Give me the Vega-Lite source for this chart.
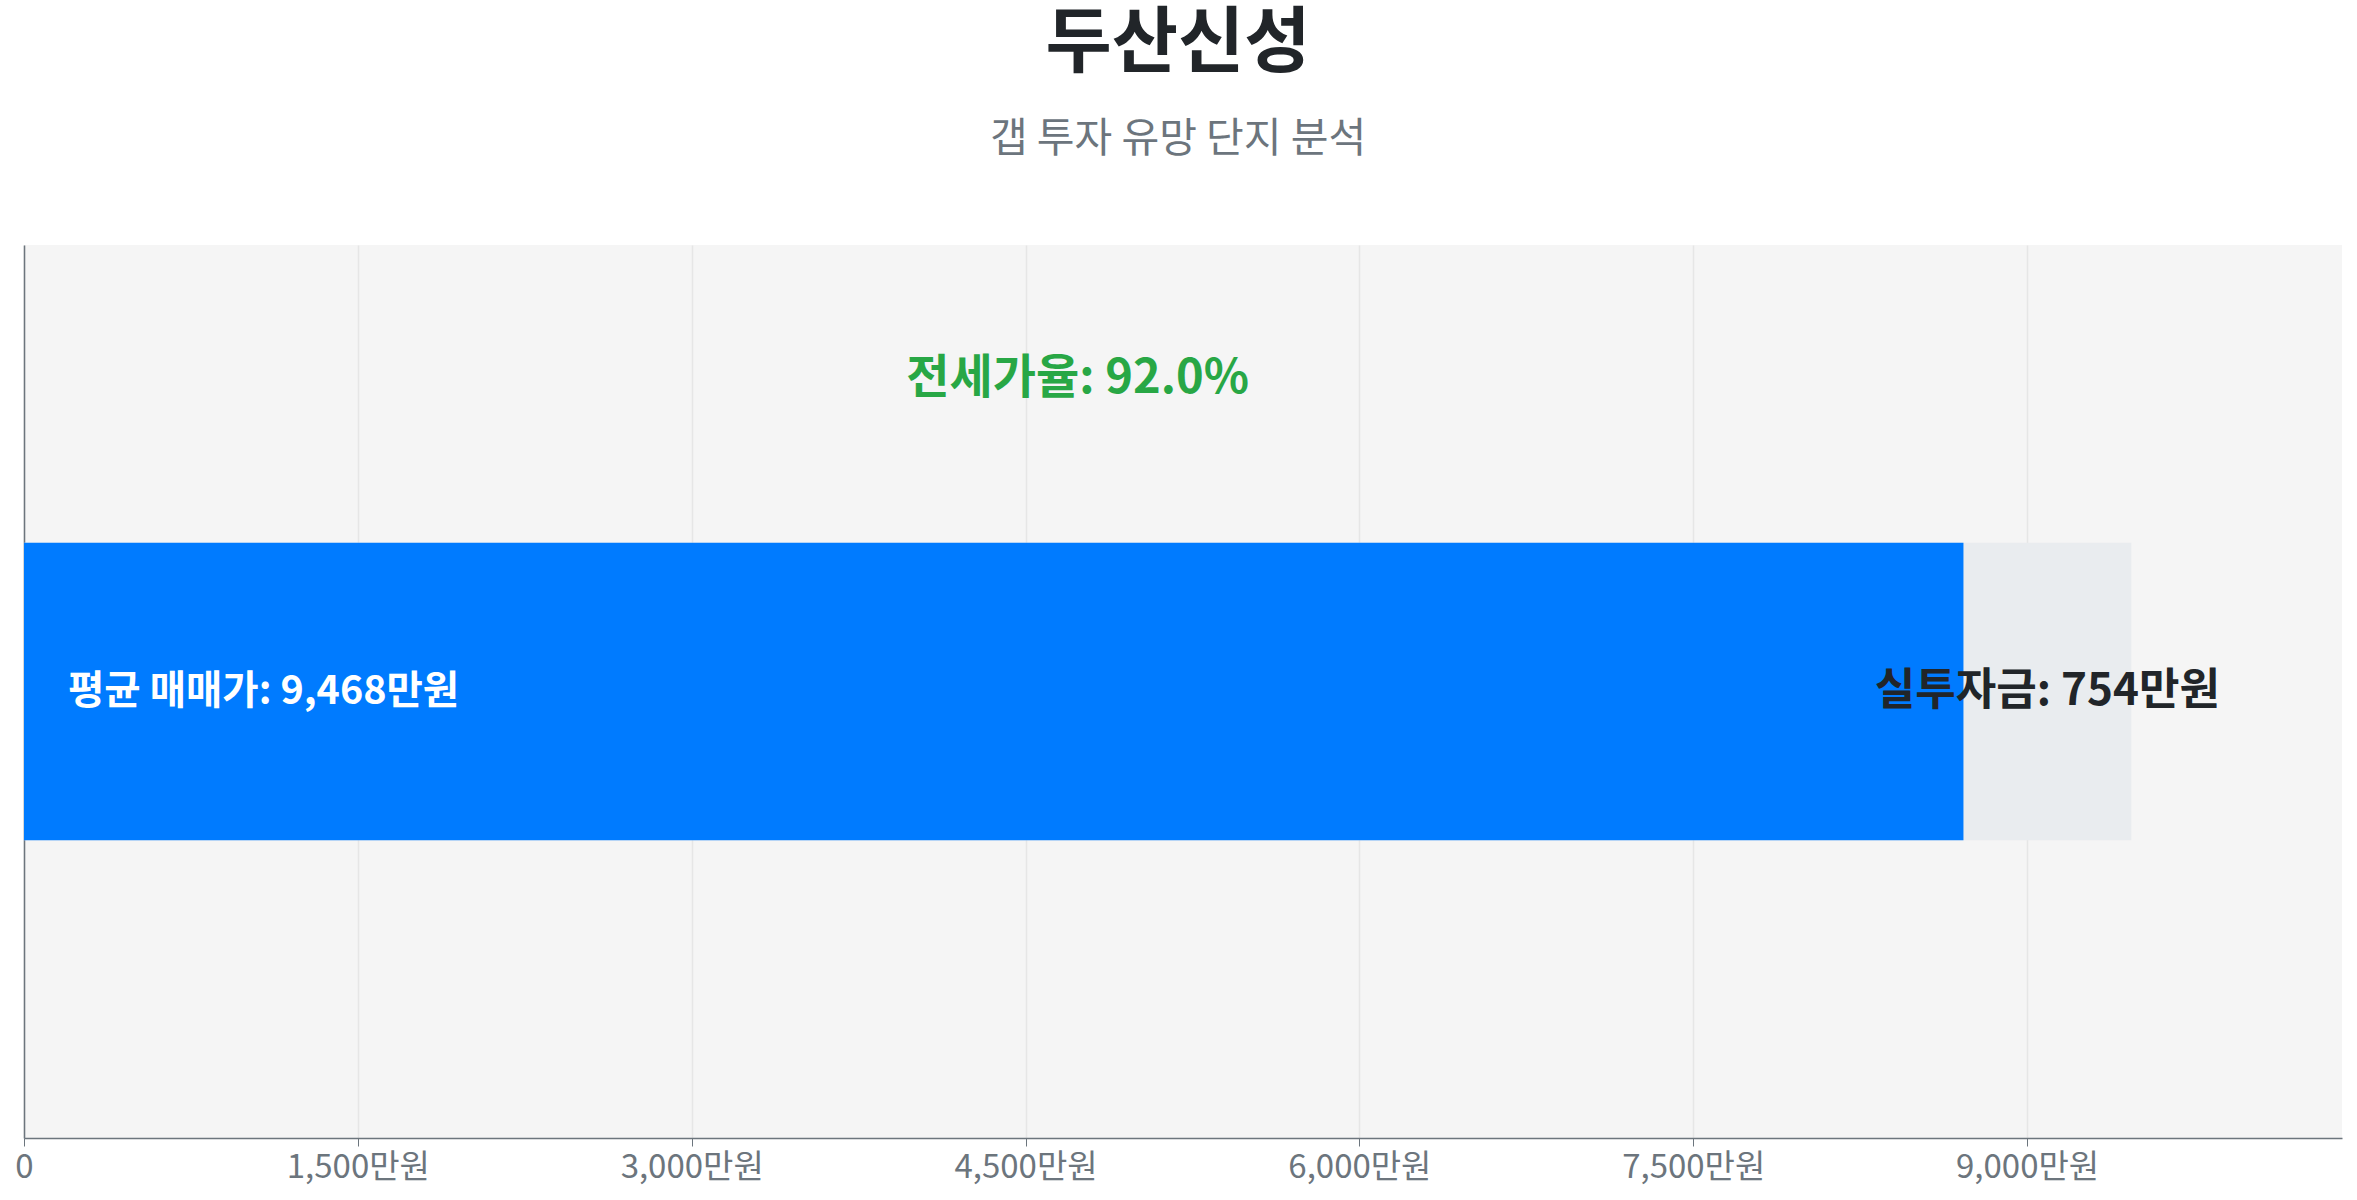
{
  "$schema": "https://vega.github.io/schema/vega-lite/v6.json",
  "autosize": {"type": "none"},
  "width": 2318,
  "height": 893,
  "padding": {"left": 24, "top": 245, "right": 15, "bottom": 62},
  "background": "#ffffff",
  "title": {
    "text": "두산신성",
    "subtitle": "갭 투자 유망 단지 분석",
    "anchor": "middle",
    "frame": "group",
    "dx": -5,
    "font": "Noto Sans CJK KR",
    "fontSize": 72,
    "fontWeight": "bold",
    "color": "#212529",
    "subtitleFont": "Noto Sans CJK KR",
    "subtitleFontSize": 41,
    "subtitleColor": "#6c757d",
    "subtitlePadding": 39,
    "offset": 84
  },
  "data": {
    "values": [
      {"name": "두산신성", "sale": 9468, "jeonse": 8714, "gap": 754, "ratio": 92.0,
       "sale_label": "평균 매매가: 9,468만원", "gap_label": "실투자금: 754만원", "ratio_label": "전세가율: 92.0%"}
    ]
  },
  "layer": [
    {
      "mark": {"type": "bar", "color": "#e9ecef"},
      "encoding": {
        "x": {"field": "sale", "type": "quantitative", "scale": {"domain": [0, 10414.8], "nice": false, "zero": true},
          "axis": {"values": [0, 1500, 3000, 4500, 6000, 7500, 9000], "labelExpr": "datum.value == 0 ? '0' : format(datum.value, ',') + '만원'", "title": null, "grid": true, "labelFlush": false}},
        "x2": {"datum": 0},
        "y": {"datum": 1, "type": "quantitative", "scale": {"domain": [0, 3], "nice": false},
          "axis": {"title": null, "labels": false, "ticks": false, "grid": false, "domain": true}},
        "y2": {"datum": 2}
      }
    },
    {
      "mark": {"type": "bar", "color": "#007bff"},
      "encoding": {
        "x": {"field": "jeonse", "type": "quantitative"},
        "x2": {"datum": 0},
        "y": {"datum": 1, "type": "quantitative"},
        "y2": {"datum": 2}
      }
    },
    {
      "mark": {"type": "text", "align": "left", "baseline": "middle", "dx": 44, "font": "Noto Sans CJK KR", "fontSize": 39.5, "fontWeight": "bold", "color": "#ffffff"},
      "encoding": {
        "x": {"datum": 0, "type": "quantitative"},
        "y": {"datum": 1.5, "type": "quantitative"},
        "text": {"field": "sale_label"}
      }
    },
    {
      "mark": {"type": "text", "align": "center", "baseline": "middle", "font": "Noto Sans CJK KR", "fontSize": 44, "fontWeight": "bold", "color": "#212529"},
      "encoding": {
        "x": {"datum": 9091, "type": "quantitative"},
        "y": {"datum": 1.5, "type": "quantitative"},
        "text": {"field": "gap_label"}
      }
    },
    {
      "mark": {"type": "text", "align": "center", "baseline": "middle", "font": "Noto Sans CJK KR", "fontSize": 47, "fontWeight": "bold", "color": "#28a745"},
      "encoding": {
        "x": {"datum": 4734, "type": "quantitative"},
        "y": {"datum": 2.55, "type": "quantitative"},
        "text": {"field": "ratio_label"}
      }
    }
  ],
  "config": {
    "view": {"fill": "#f5f5f5", "stroke": null},
    "font": "Noto Sans CJK KR",
    "axis": {
      "labelFont": "Noto Sans CJK KR",
      "labelFontSize": 33,
      "labelColor": "#6c757d",
      "labelPadding": 5,
      "tickColor": "#6c757d",
      "tickSize": 8,
      "domainColor": "#6c757d",
      "domainWidth": 1.5,
      "gridColor": "#e6e6e6",
      "gridWidth": 1.5
    }
  }
}
